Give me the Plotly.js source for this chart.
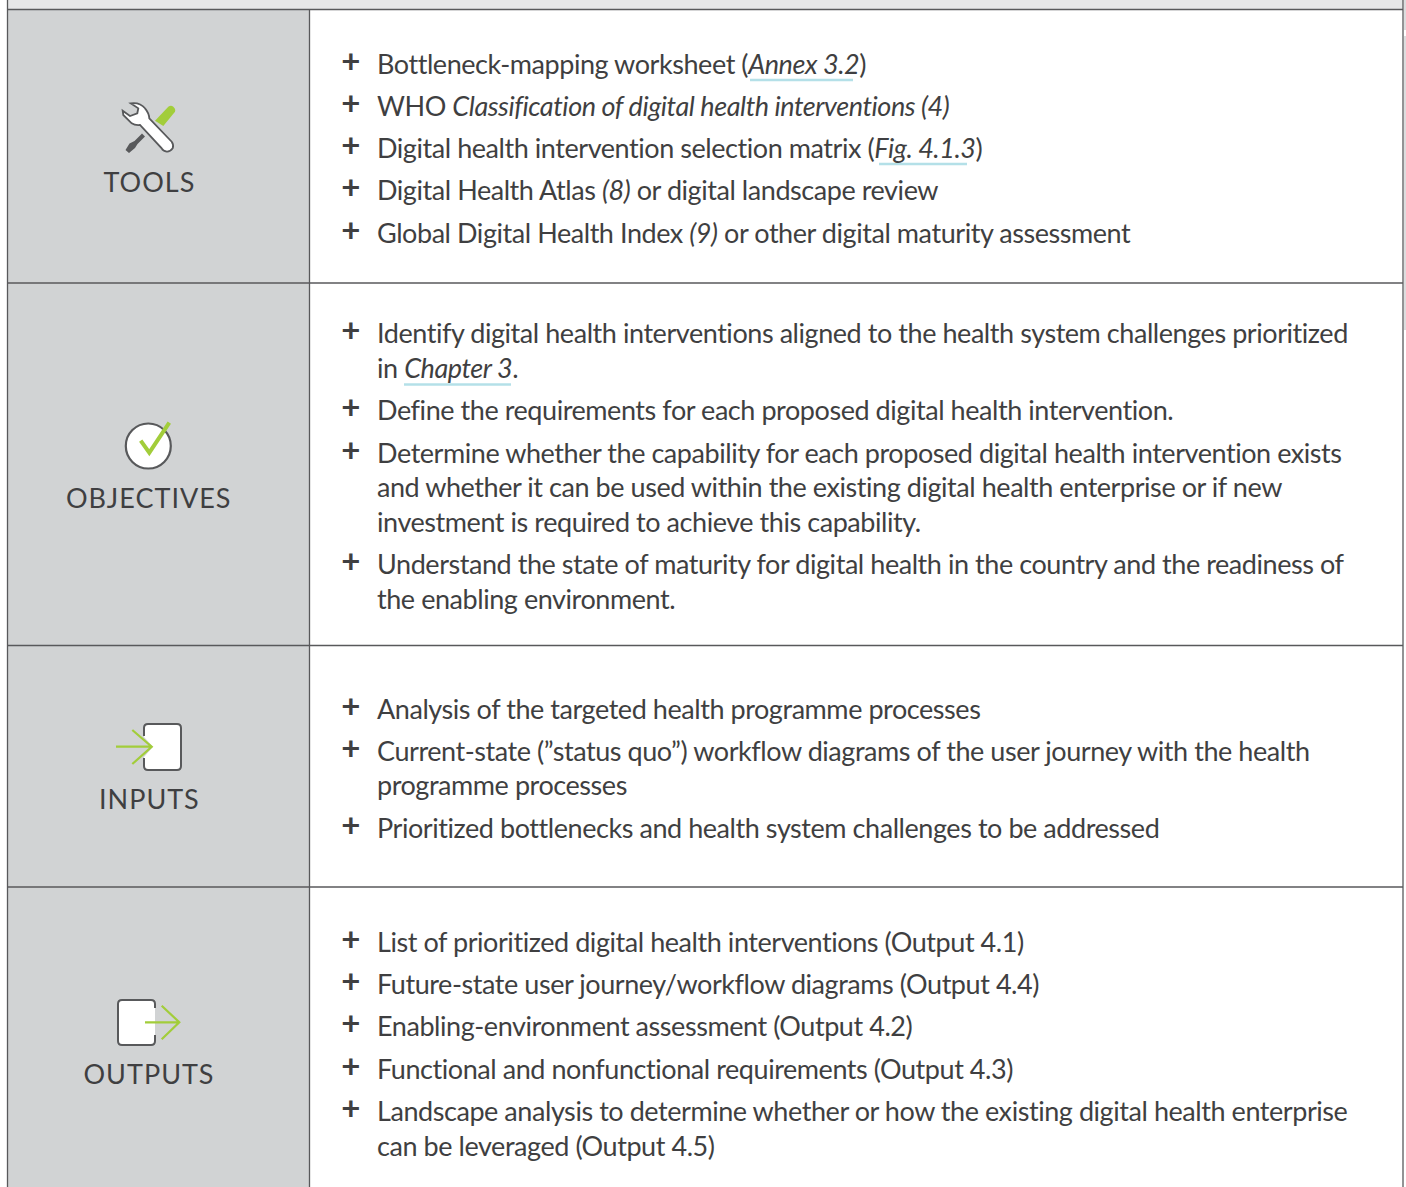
<!DOCTYPE html>
<html><head><meta charset="utf-8">
<script src="https://cdn.plot.ly/plotly-3.0.1.min.js"></script>
<style>
html,body{margin:0;padding:0;background:#fff;overflow:hidden}
.annotation text{letter-spacing:-0.44px}
.annotation[data-index="0"] text,.annotation[data-index="1"] text,.annotation[data-index="2"] text,.annotation[data-index="3"] text{letter-spacing:1.0px}
</style></head><body><div id="chart" style="width:1406px;height:1187px"></div>
<script>
const rowLabels=["TOOLS","OBJECTIVES","INPUTS","OUTPUTS"];
const toolsItems=[
 ["Bottleneck-mapping worksheet (<i>Annex 3.2</i>)"],
 ["WHO <i>Classification of digital health interventions (4)</i>"],
 ["Digital health intervention selection matrix (<i>Fig. 4.1.3</i>)"],
 ["Digital Health Atlas <i>(8)</i> or digital landscape review"],
 ["Global Digital Health Index <i>(9)</i> or other digital maturity assessment"]];
const objectivesItems=[
 ["Identify digital health interventions aligned to the health system challenges prioritized","in <i>Chapter 3</i>."],
 ["Define the requirements for each proposed digital health intervention."],
 ["Determine whether the capability for each proposed digital health intervention exists","and whether it can be used within the existing digital health enterprise or if new","investment is required to achieve this capability."],
 ["Understand the state of maturity for digital health in the country and the readiness of","the enabling environment."]];
const inputsItems=[
 ["Analysis of the targeted health programme processes"],
 ["Current-state (”status quo”) workflow diagrams of the user journey with the health","programme processes"],
 ["Prioritized bottlenecks and health system challenges to be addressed"]];
const outputsItems=[
 ["List of prioritized digital health interventions (Output 4.1)"],
 ["Future-state user journey/workflow diagrams (Output 4.4)"],
 ["Enabling-environment assessment (Output 4.2)"],
 ["Functional and nonfunctional requirements (Output 4.3)"],
 ["Landscape analysis to determine whether or how the existing digital health enterprise","can be leveraged (Output 4.5)"]];

// layout only
const allItems=[toolsItems,objectivesItems,inputsItems,outputsItems].flat();
const lineY=[64,106,148,190,233,333,368,410,453,487,522,564,599,709,751,785,828,942,984,1026,1069,1111,1146];
const labelY=[181,497,798,1073];
const DARK="#58595b",GREEN="#a2cd3a",GREY="#d1d3d4",TEXT="#3f3f41",FONT="Lato, sans-serif",LINK="#b4e0e8";
const ann=[];
rowLabels.forEach((t,i)=>ann.push({x:149,y:labelY[i],text:t,xanchor:"center",yanchor:"middle",showarrow:false,font:{family:FONT,size:27,color:TEXT}}));
let k=0;
allItems.forEach(item=>{
  item.forEach((ln,j)=>{
    const y=lineY[k++];
    if(j===0)ann.push({x:350,y:y-4,text:"+",xanchor:"center",yanchor:"middle",showarrow:false,font:{family:FONT,size:33,color:TEXT,weight:700}});
    ann.push({x:375,y:y-1,text:ln,xanchor:"left",yanchor:"middle",align:"left",showarrow:false,font:{family:FONT,size:27,color:TEXT}});
  });
});
const rect=(x0,y0,x1,y1,c)=>({type:"rect",x0,y0,x1,y1,fillcolor:c,line:{width:0},layer:"below"});
const seg=(x0,y0,x1,y1,c,w)=>({type:"line",x0,y0,x1,y1,line:{color:c,width:w}});
const path=(d,fill,c,w)=>({type:"path",path:d,fillcolor:fill||"rgba(0,0,0,0)",line:{color:c||"rgba(0,0,0,0)",width:w||0}});
const shapes=[
 rect(8,0,1403,9,"#e6e7e8"),rect(8,10,309,1187,GREY),
 rect(1404,0,1406,30,"#dcddde"),rect(1404,36,1406,330,"#dcddde"),
 seg(7.5,0,7.5,1187,DARK,1.3),seg(309.5,10,309.5,1187,DARK,1.3),seg(1403,0,1403,1187,DARK,1.3),
 seg(7,9.5,1403,9.5,DARK,1.3),seg(7,283,1403,283,DARK,1.3),seg(7,645.5,1403,645.5,DARK,1.3),seg(7,887,1403,887,DARK,1.3),
 seg(750,80,853,80,LINK,2.5),seg(879,164,967,164,LINK,2.5),seg(404,384.5,511,384.5,LINK,2.5),
 // tools icon
 path("M155,120.7 L168.3,106.7 Q171,105 173.3,106.7 Q176,109 175,111.7 L163.3,126 Z",GREEN),
 path("M142,133.5 L145,136.5 L137.5,144 L135,148 L129,153 L125.5,150 L129.5,143.5 L134.5,141 Z",DARK),
 path("M130.7,103.3 Q140,102 145,108.3 Q149,113 149.3,118.3 L171.7,141.7 Q174,145 172.7,148.3 Q170,152 166.7,151.7 Q163,151 161.7,148.3 L140,125 Q135,125.5 131.7,123.3 L123.3,115 L122.7,110.7 L130,116 L137.3,113.3 L138.3,108.3 Z","#ffffff",DARK,1.8),
 // objectives icon
 {type:"circle",x0:125.8,y0:423.5,x1:170.8,y1:468.5,fillcolor:"#ffffff",line:{color:DARK,width:2.2}},
 path("M140.7,440.7 L149.3,452.7 L169.3,422.7",null,GREEN,4),
 // inputs icon
 path("M144,736 L144,728 Q144,724 148,724 L177,724 Q181,724 181,728 L181,766 Q181,770 177,770 L148,770 Q144,770 144,766 L144,758 Z","#ffffff"),
 path("M144,736 L144,728 Q144,724 148,724 L177,724 Q181,724 181,728 L181,766 Q181,770 177,770 L148,770 Q144,770 144,766 L144,758",null,DARK,2),
 path("M144,737 L153,746.7 L144,757 Z",GREY),
 path("M116,746.7 L151.7,746.7 M132.3,730 L151.7,746.7 L132.3,764",null,GREEN,2.2),
 // outputs icon
 path("M155,1008 L155,1004 Q155,1000 151,1000 L122,1000 Q118,1000 118,1004 L118,1041 Q118,1045 122,1045 L151,1045 Q155,1045 155,1041 L155,1035 Z","#ffffff"),
 path("M155,1008 L155,1004 Q155,1000 151,1000 L122,1000 Q118,1000 118,1004 L118,1041 Q118,1045 122,1045 L151,1045 Q155,1045 155,1041 L155,1035",null,DARK,2),
 path("M145,1022.3 L179.3,1022.3 M161.7,1005.7 L179.3,1022.3 L161.7,1039.3",null,GREEN,2.2)
];
Plotly.newPlot("chart",[],{
 width:1406,height:1187,margin:{l:0,r:0,t:0,b:0},paper_bgcolor:"#fff",plot_bgcolor:"#fff",showlegend:false,
 xaxis:{range:[0,1406],visible:false,fixedrange:true},
 yaxis:{range:[1187,0],visible:false,fixedrange:true},
 annotations:ann,shapes
},{staticPlot:true,displayModeBar:false});
</script></body></html>
